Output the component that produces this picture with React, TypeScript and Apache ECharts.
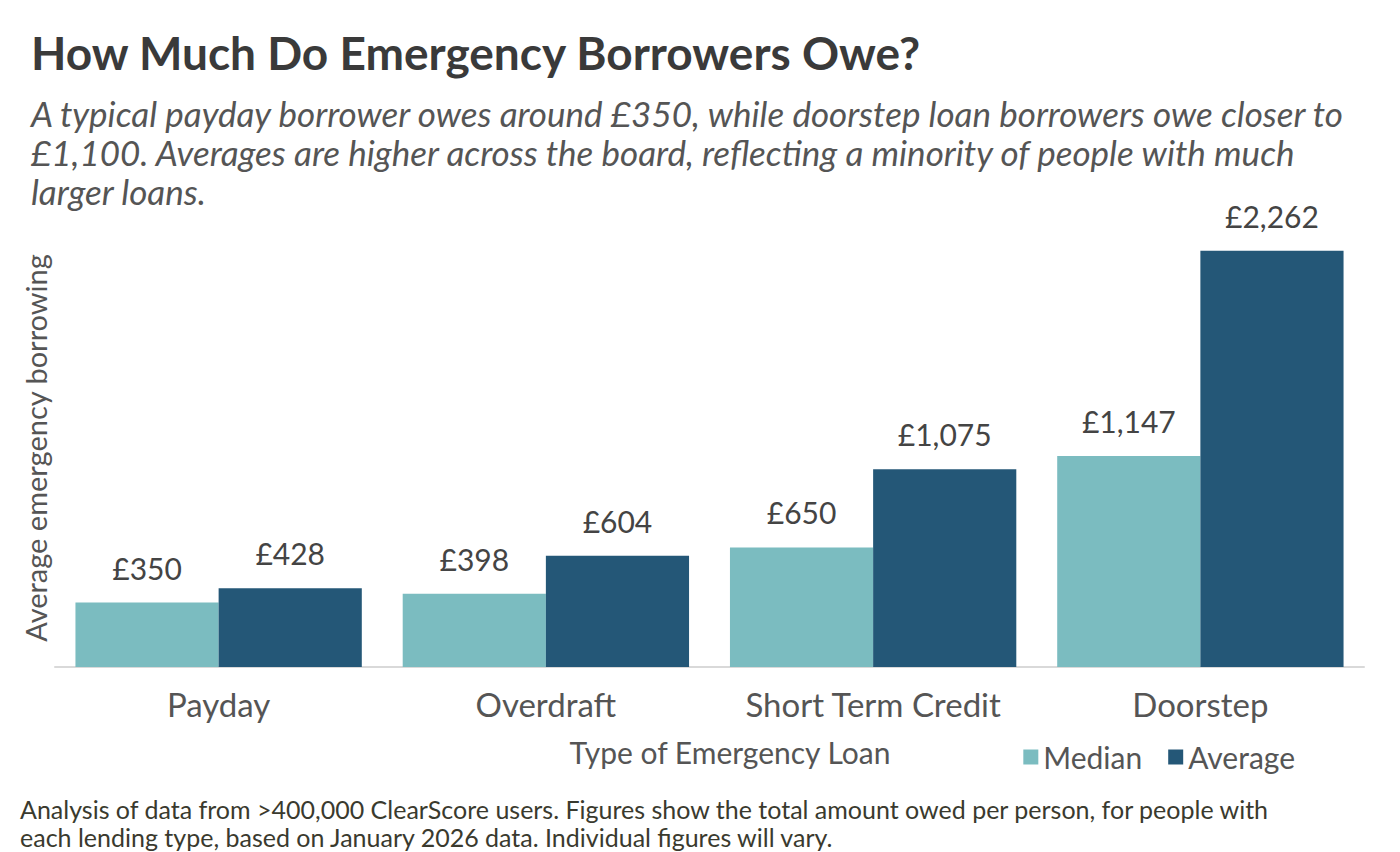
import React, { useEffect, useRef } from "react";
import * as echarts from "echarts";

const categories = ["Payday", "Overdraft", "Short Term Credit", "Doorstep"];
const medianValues = [350, 398, 650, 1147];
const averageValues = [428, 604, 1075, 2262];
const seriesNames = ["Median", "Average"];

const fmt = (v: number) => "£" + v.toLocaleString("en-GB");

export default function App() {
  const ref = useRef<HTMLDivElement>(null);
  useEffect(() => {
    const chart = echarts.init(ref.current!, null, { renderer: "svg" });
    const labelStyle = {
      show: true,
      position: "top",
      distance: 20,
      fontFamily: "Lato",
      fontSize: 30,
      color: "#444",
      formatter: (p: any) => fmt(p.value),
    };
    chart.setOption({
      animation: false,
      backgroundColor: "#fff",
      textStyle: { fontFamily: "Lato" },
      title: [
        {
          text: "How Much Do Emergency Borrowers Owe?",
          left: 26,
          top: 24,
          textStyle: { fontFamily: "Lato", fontWeight: "bold", fontSize: 46, color: "#3a3a3a" },
        },
        {
          text:
            "A typical payday borrower owes around £350, while doorstep loan borrowers owe closer to\n£1,100. Averages are higher across the board, reflecting a minority of people with much\nlarger loans.",
          left: 26,
          top: 88,
          textStyle: {
            fontFamily: "Lato",
            fontStyle: "italic",
            fontWeight: "normal",
            fontSize: 35,
            lineHeight: 39,
            color: "#555",
          },
        },
        {
          text:
            "Analysis of data from >400,000 ClearScore users. Figures show the total amount owed per person, for people with\neach lending type, based on January 2026 data. Individual figures will vary.",
          left: 15,
          top: 790,
          textStyle: {
            fontFamily: "Lato",
            fontWeight: "normal",
            fontSize: 25,
            lineHeight: 28,
            color: "#3a3a2e",
          },
        },
      ],
      graphic: [
        {
          type: "text",
          x: 35,
          y: 448,
          rotation: Math.PI / 2,
          style: {
            text: "Average emergency borrowing",
            fontFamily: "Lato",
            fontSize: 29,
            fill: "#555",
            align: "center",
            verticalAlign: "middle",
          },
        },
        {
          type: "text",
          x: 730,
          y: 752,
          style: {
            text: "Type of Emergency Loan",
            fontFamily: "Lato",
            fontSize: 30,
            fill: "#555",
            align: "center",
            verticalAlign: "middle",
          },
        },
      ],
      legend: {
        data: seriesNames,
        right: 100,
        top: 737,
        itemWidth: 15,
        itemHeight: 15,
        itemGap: 26,
        icon: "rect",
        textStyle: { fontFamily: "Lato", fontSize: 30, color: "#555" },
      },
      grid: { left: 55, right: 36, top: 207, bottom: 185 },
      xAxis: {
        type: "category",
        data: categories,
        axisLine: { lineStyle: { color: "#d9d9d9", width: 2 } },
        axisTick: { show: false },
        axisLabel: { interval: 0, fontFamily: "Lato", fontSize: 33, color: "#555", margin: 20 },
      },
      yAxis: {
        type: "value",
        min: 0,
        max: 2500,
        axisLine: { show: false },
        axisTick: { show: false },
        axisLabel: { show: false },
        splitLine: { show: false },
      },
      series: [
        {
          name: seriesNames[0],
          type: "bar",
          data: medianValues,
          itemStyle: { color: "#7bbcc0" },
          barGap: "0%",
          barCategoryGap: "12.5%",
          label: labelStyle,
        },
        {
          name: seriesNames[1],
          type: "bar",
          data: averageValues,
          itemStyle: { color: "#245777" },
          barGap: "0%",
          barCategoryGap: "12.5%",
          label: labelStyle,
        },
      ],
    });
    return () => chart.dispose();
  }, []);
  return <div ref={ref} style={{ width: 1400, height: 852, position: "absolute", left: 0, top: 0 }} />;
}
